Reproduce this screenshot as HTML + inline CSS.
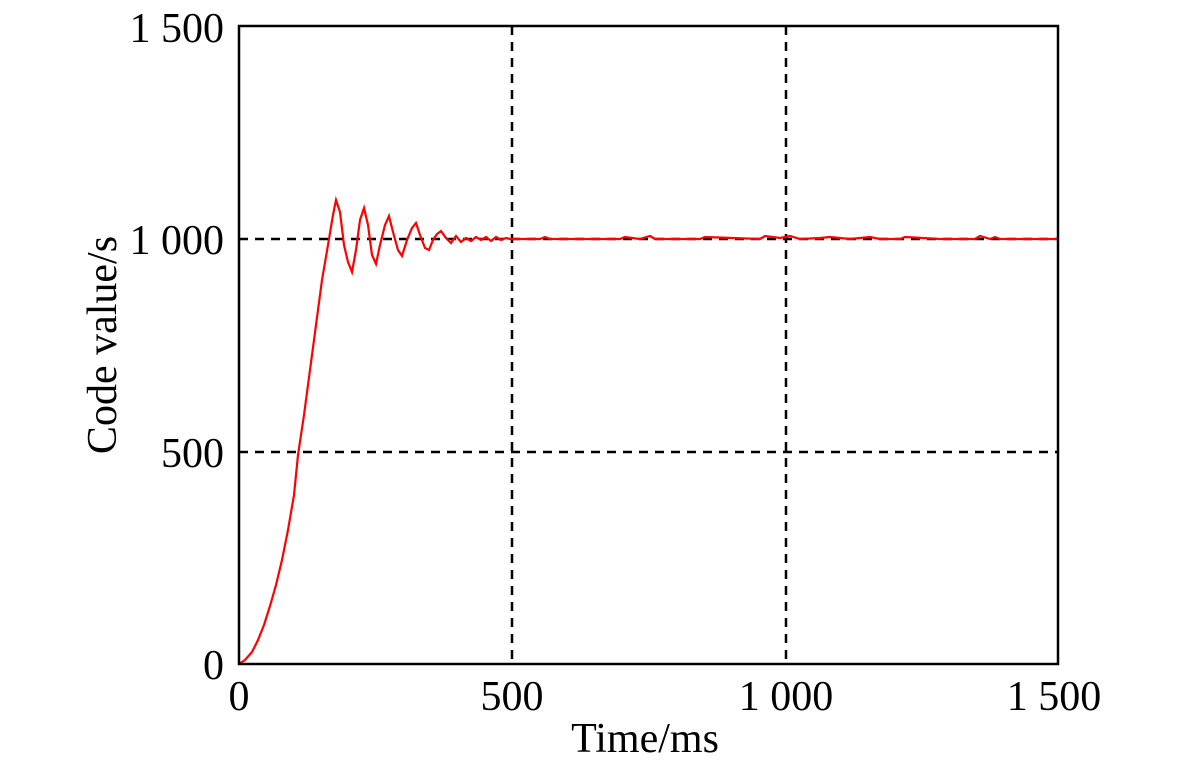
<!DOCTYPE html>
<html><head><style>body{margin:0;background:#fff}</style></head><body>
<svg width="1181" height="769" xmlns="http://www.w3.org/2000/svg" font-family="Liberation Serif, serif" font-size="42">
<rect x="0" y="0" width="1181" height="769" fill="#fff"/>
<g stroke="#000" stroke-width="2.5" stroke-dasharray="9,7" fill="none">
<line x1="239" y1="239" x2="1058" y2="239"/>
<line x1="239" y1="452" x2="1058" y2="452"/>
<line x1="512" y1="26" x2="512" y2="664"/>
<line x1="786" y1="26" x2="786" y2="664"/>
</g>
<polyline fill="none" stroke="#ff0000" stroke-width="2.2" points="239,664 245,660 252,652 258,640 264,625 270,606 276,585 282,560 288,530 294,495 298,455 304,415 310,370 316,325 322,280 328,245 333,215 336,200 340,212 344,245 348,262 352,272 356,250 360,220 364,208 368,225 372,255 376,264 380,245 385,225 389,216 393,232 398,250 402,256 407,240 412,228 416,223 420,235 425,248 429,250 433,240 437,234 441,231 446,238 451,243 456,236 461,242 466,238 471,241 476,237 481,240 486,237 491,241 496,237 501,240 506,238 510,239 540,239 545,237 550,239 620,239 625,237 640,239 650,236 655,239 700,239 705,237 760,239 765,236 780,238 790,236 800,239 820,238 830,237 850,239 870,237 880,239 900,239 905,237 940,239 975,239 980,236 990,239 995,237 1000,239 1058,239"/>
<rect x="239" y="26" width="819" height="638" fill="none" stroke="#000" stroke-width="2.5"/>
<g text-anchor="end">
<text x="224" y="679">0</text>
<text x="224" y="467">500</text>
<text x="224" y="254">1 000</text>
<text x="224" y="42">1 500</text>
</g>
<g text-anchor="middle">
<text x="239" y="710">0</text>
<text x="512" y="710">500</text>
<text x="786" y="710">1 000</text>
<text x="1054" y="710">1 500</text>
<text x="645" y="752">Time/ms</text>
<text transform="translate(116,345) rotate(-90)">Code value/s</text>
</g>
</svg>
</body></html>
